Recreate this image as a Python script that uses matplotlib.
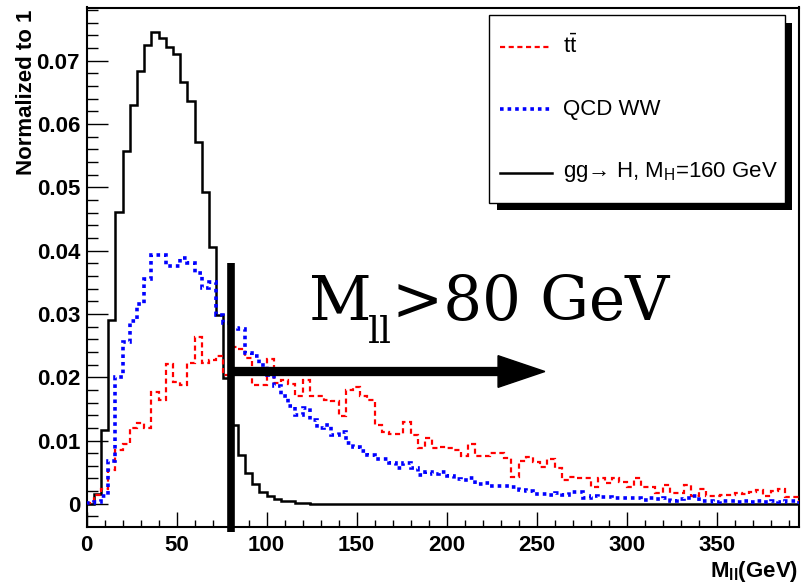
import numpy as np
import matplotlib.pyplot as plt
from matplotlib.ticker import MultipleLocator, FuncFormatter
from matplotlib.patches import Rectangle
from matplotlib.lines import Line2D

plt.rcParams['font.family'] = ['Liberation Sans', 'DejaVu Sans']
plt.rcParams['mathtext.fontset'] = 'custom'
plt.rcParams['mathtext.rm'] = 'Liberation Sans'
plt.rcParams['mathtext.bf'] = 'Liberation Sans:bold'
plt.rcParams['mathtext.it'] = 'Liberation Sans:italic'

# 4 GeV bins from 0 to 396 GeV
edges = np.arange(0, 397, 4)

# gg -> H, MH=160 GeV
higgs = [0.0, 0.0016, 0.0117, 0.0290, 0.0461, 0.0557, 0.0630, 0.0684, 0.0725, 0.0746,
         0.0736, 0.0721, 0.0710, 0.0667, 0.0636, 0.0572, 0.0493, 0.0406, 0.0299, 0.0199,
         0.0125, 0.0077, 0.0048, 0.0032, 0.0018, 0.0012, 0.0007, 0.0005, 0.0004, 0.0002,
         0.0001] + [0.0] * 68

# QCD WW
qcdww = [0.0001, 0.0003, 0.0013, 0.0068, 0.0201, 0.0255, 0.0288, 0.0316, 0.0355, 0.0393,
         0.0393, 0.0376, 0.0376, 0.0388, 0.0381, 0.0364, 0.0341, 0.0350, 0.0299, 0.0286,
         0.0278, 0.0276, 0.0238, 0.0233, 0.0220, 0.0204, 0.0186, 0.0170, 0.0154, 0.0141,
         0.0151, 0.0133, 0.0120, 0.0125, 0.0109, 0.0114, 0.0096, 0.0090, 0.0083, 0.0077,
         0.0071, 0.0070, 0.0064, 0.0056, 0.0064, 0.0056, 0.0046, 0.0051, 0.0047, 0.0051,
         0.0044, 0.0039, 0.0037, 0.0040, 0.0032, 0.0033, 0.0028, 0.0028, 0.0028, 0.0027,
         0.0022, 0.0020, 0.0016, 0.0016, 0.0014, 0.0017, 0.0014, 0.0018, 0.0018, 0.0009,
         0.0012, 0.0011, 0.0011, 0.0009, 0.0009, 0.0009, 0.0009, 0.0006, 0.0009, 0.0007,
         0.0009, 0.0005, 0.0007, 0.0009, 0.0012, 0.0005, 0.0004, 0.0003, 0.0005, 0.0004,
         0.0003, 0.0004, 0.0003, 0.0004, 0.0003, 0.0004, 0.0003, 0.0004, 0.0004]

# ttbar
ttbar = [0.0002, 0.0014, 0.0023, 0.0054, 0.0085, 0.0095, 0.0120, 0.0128, 0.0120, 0.0177,
         0.0164, 0.0221, 0.0192, 0.0187, 0.0223, 0.0263, 0.0223, 0.0227, 0.0233, 0.0204,
         0.0248, 0.0245, 0.0230, 0.0188, 0.0188, 0.0229, 0.0191, 0.0196, 0.0190, 0.0170,
         0.0196, 0.0170, 0.0170, 0.0164, 0.0162, 0.0138, 0.0180, 0.0184, 0.0170, 0.0164,
         0.0125, 0.0114, 0.0110, 0.0110, 0.0130, 0.0109, 0.0088, 0.0104, 0.0088, 0.0090,
         0.0088, 0.0085, 0.0075, 0.0095, 0.0076, 0.0076, 0.0081, 0.0080, 0.0072, 0.0043,
         0.0067, 0.0074, 0.0066, 0.0058, 0.0071, 0.0057, 0.0037, 0.0043, 0.0040, 0.0040,
         0.0027, 0.0041, 0.0033, 0.0041, 0.0035, 0.0027, 0.0041, 0.0027, 0.0027, 0.0017,
         0.0029, 0.0017, 0.0017, 0.0029, 0.0012, 0.0024, 0.0012, 0.0013, 0.0014, 0.0014,
         0.0017, 0.0016, 0.0018, 0.0022, 0.0012, 0.0021, 0.0024, 0.0010, 0.0010]

labels = [r'$\mathrm{t}\bar{\mathrm{t}}$', 'QCD WW', 'gg\u2192 H, M$_{\mathrm{H}}$=160 GeV']

cut = 80

W, H = 805, 584
fx = lambda p: p / W
fy = lambda p: 1 - p / H

fig = plt.figure(figsize=(8.05, 5.84), dpi=100)
ax = fig.add_axes([fx(86.7), fy(527.3), fx(799.3) - fx(86.7), fy(7.5) - fy(527.3)])
ax.set_xlim(0, 396)
ax.set_ylim(-0.00371, 0.0784)

red_ls = (0, (2.3, 1.6))
blue_ls = (0, (1, 1.1))
ax.stairs(higgs, edges, color='black', lw=1.8, zorder=3)
ax.stairs(ttbar, edges, color='#ff0000', lw=1.6, linestyle=red_ls, zorder=3)
ax.stairs(qcdww, edges, color='#0000ff', lw=2.6, linestyle=blue_ls, zorder=3)

ax.xaxis.set_major_locator(MultipleLocator(50))
ax.xaxis.set_minor_locator(MultipleLocator(10))
ax.yaxis.set_major_locator(MultipleLocator(0.01))
ax.yaxis.set_minor_locator(MultipleLocator(0.002))
ax.yaxis.set_major_formatter(FuncFormatter(lambda v, p: '%g' % round(v, 4)))
ax.tick_params(which='both', direction='in', top=False, right=False, width=1.0, labelsize=16)
ax.tick_params(axis='x', which='major', length=10.8, pad=5.5)
ax.tick_params(axis='x', which='minor', length=5)
ax.tick_params(axis='y', which='major', length=15, pad=4.8)
ax.tick_params(axis='y', which='minor', length=7.7)
plt.setp(ax.get_xticklabels(), fontweight='bold')
plt.setp(ax.get_yticklabels(), fontweight='bold')
for s in ax.spines.values():
    s.set_linewidth(1.5)

# cut line and arrow
ax.plot([cut, cut], [-0.0045, 0.0381], color='black', lw=5.5, solid_capstyle='butt',
        clip_on=False, zorder=6)
ax.arrow(cut, 0.0209, 254.6 - cut, 0, width=0.00125, head_width=0.005, head_length=26,
         length_includes_head=True, color='black', zorder=6)
ax.text(123.5, 0.0291, 'M', fontsize=44, family='DejaVu Serif', va='baseline', ha='left', zorder=7)
ax.text(156.5, 0.0254, 'll', fontsize=27, family='DejaVu Serif', va='baseline', ha='left', zorder=7)
ax.text(169.5, 0.0291, '>80 GeV', fontsize=44, family='DejaVu Serif', va='baseline', ha='left', zorder=7)

# axis titles
fig.text(fx(27), fy(10), 'Normalized to 1', rotation=90, ha='center', va='top',
         fontsize=16, fontweight='bold')
fig.text(fx(798), fy(576.7), r'M$_{\mathbf{ll}}$(GeV)', ha='right', va='baseline',
         fontsize=16, fontweight='bold')

# legend box with shadow
fig.add_artist(Rectangle((fx(496.7), fy(210)), fx(791.7) - fx(496.7), fy(23.3) - fy(210),
                         transform=fig.transFigure, facecolor='black', edgecolor='none', zorder=8))
fig.add_artist(Rectangle((fx(489.3), fy(203.3)), fx(785) - fx(489.3), fy(15) - fy(203.3),
                         transform=fig.transFigure, facecolor='white', edgecolor='black',
                         lw=1.0, zorder=9))
styles = [('#ff0000', red_ls, 1.6, 46.7), ('#0000ff', blue_ls, 2.6, 109.3), ('black', '-', 1.8, 172.5)]
for lab, (c, ls, lw, yy) in zip(labels, styles):
    fig.add_artist(Line2D([fx(500), fx(552)], [fy(yy), fy(yy)], transform=fig.transFigure,
                          color=c, linestyle=ls, lw=lw, zorder=10))
    fig.text(fx(562.7), fy(yy), lab, ha='left', va='center', fontsize=16, zorder=10)

fig.savefig('out.png', dpi=100)
